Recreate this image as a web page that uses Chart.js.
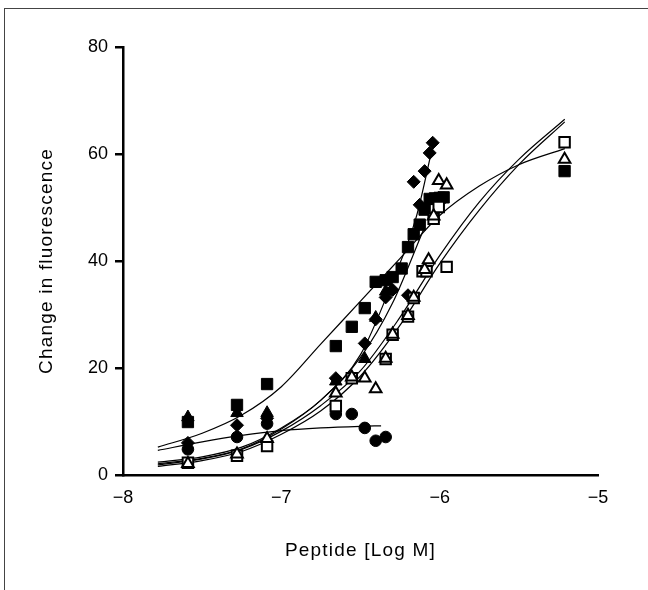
<!DOCTYPE html>
<html>
<head>
<meta charset="utf-8">
<script src="https://cdn.jsdelivr.net/npm/chart.js@4.4.0/dist/chart.umd.min.js"></script>
<style>
  html, body { margin: 0; padding: 0; background: #fff; }
  #wrap { position: relative; width: 648px; height: 590px; overflow: hidden; }
  #frame { position: absolute; left: 4px; top: 8px; width: 800px; height: 800px;
           border-top: 1.5px solid #444; border-left: 1.5px solid #444; }
  canvas { position: absolute; left: 0; top: 0; }
</style>
</head>
<body>
<div id="wrap">
  <div id="frame"></div>
  <canvas id="c" width="648" height="590"></canvas>
</div>
<script>
// ---- Axis ticks ----
const xTicks = [-8, -7, -6, -5];
const yTicks = [0, 20, 40, 60, 80];

// ---- Measured points (x = log M, y = change in fluorescence) ----
const sqFilledX = [-7.59, -7.28, -7.09, -6.656, -6.555, -6.473, -6.404, -6.341, -6.297, -6.24, -6.20, -6.164, -6.126, -6.095, -6.063, -6.03, -6.0, -5.975, -5.211];
const sqFilledY = [9.9, 13.1, 17.0, 24.1, 27.7, 31.2, 36.1, 36.4, 37.0, 38.6, 42.6, 45.0, 46.8, 49.6, 51.6, 51.7, 51.8, 51.9, 56.8];

const triFilledX = [-7.59, -7.28, -7.09, -6.656, -6.473, -6.404, -6.341];
const triFilledY = [10.8, 11.6, 11.6, 17.5, 21.7, 29.4, 34.3];

const diaFilledX = [-7.59, -7.28, -7.09, -6.656, -6.473, -6.404, -6.341, -6.297, -6.20, -6.164, -6.126, -6.095, -6.063, -6.044];
const diaFilledY = [6.0, 9.3, 10.6, 18.1, 24.6, 29.1, 33.2, 34.6, 33.6, 54.8, 50.5, 56.8, 60.2, 62.1];

const circFilledX = [-7.59, -7.28, -7.09, -6.656, -6.555, -6.473, -6.404, -6.341];
const circFilledY = [4.8, 7.1, 9.6, 11.4, 11.4, 8.8, 6.4, 7.1];

const sqOpenX = [-7.59, -7.28, -7.09, -6.656, -6.555, -6.341, -6.297, -6.20, -6.164, -6.108, -6.083, -6.038, -6.006, -5.956, -5.211];
const sqOpenY = [2.3, 3.6, 5.4, 12.9, 18.1, 21.7, 26.2, 29.6, 33.1, 38.1, 38.1, 47.9, 50.1, 38.9, 62.2];

const triOpenX = [-7.59, -7.28, -7.09, -6.656, -6.555, -6.473, -6.404, -6.341, -6.297, -6.20, -6.164, -6.095, -6.07, -6.038, -6.006, -5.956, -5.211];
const triOpenY = [2.1, 3.9, 6.8, 15.3, 18.3, 18.1, 16.1, 21.8, 26.3, 29.8, 33.2, 38.4, 40.2, 48.4, 55.0, 54.2, 59.0];

// ---- Fitted curves ----
const fitX = [-7.78, -7.5, -7.25, -7.0, -6.75, -6.5, -6.25, -6.0, -5.75, -5.5, -5.21];
const fitSqFilledY = [5.2, 7.8, 11.2, 16.5, 24.5, 32.5, 40.5, 48.5, 54.0, 58.0, 61.0];
const fitTriOpenY  = [1.9, 3.0, 4.8, 8.2, 13.0, 19.5, 29.5, 41.0, 51.0, 59.0, 66.5];
const fitSqOpenY   = [1.6, 2.7, 4.4, 7.6, 12.0, 18.5, 28.0, 39.5, 49.5, 58.0, 66.0];

const fitCircX = [-7.78, -7.5, -7.25, -7.0, -6.75, -6.5, -6.37];
const fitCircY = [4.6, 6.2, 7.4, 8.3, 8.8, 9.1, 9.2];

const fitDiaX = [-7.78, -7.5, -7.25, -7.0, -6.75, -6.5, -6.3, -6.15, -6.04];
const fitDiaY = [2.4, 3.4, 5.2, 8.8, 14.0, 22.5, 36.0, 48.0, 62.0];

const fitTriX = [-7.78, -7.5, -7.25, -7.0, -6.75, -6.5, -6.3, -6.1];
const fitTriY = [2.1, 3.1, 4.9, 8.6, 14.0, 22.0, 32.0, 46.0];

const pts = (xs, ys) => xs.map((x, i) => ({ x: x, y: ys[i] }));

function markerSet(xs, ys, style, radius, filled, order) {
  return {
    data: pts(xs, ys),
    showLine: false,
    pointStyle: style,
    pointRadius: radius,
    pointHoverRadius: radius,
    pointBackgroundColor: filled ? '#000' : '#fff',
    pointBorderColor: '#000',
    pointBorderWidth: filled ? 1 : 2,
    order: order
  };
}
function curveSet(xs, ys) {
  return {
    data: pts(xs, ys),
    showLine: true,
    borderColor: '#000',
    borderWidth: 1.2,
    pointRadius: 0,
    pointHoverRadius: 0,
    cubicInterpolationMode: 'monotone',
    fill: false,
    order: 100
  };
}

const FONT = "'Liberation Sans', Arial, Helvetica, sans-serif";

// Wider tracking for the axis titles (drawn before datasets), normal for tick labels.
const spacingPlugin = {
  id: 'spacing',
  beforeDraw(chart) { chart.ctx.letterSpacing = '1.2px'; },
  beforeDatasetsDraw(chart) { chart.ctx.letterSpacing = '0px'; }
};

new Chart(document.getElementById('c'), {
  type: 'scatter',
  plugins: [spacingPlugin],
  data: {
    datasets: [
      curveSet(fitX, fitSqFilledY),
      curveSet(fitX, fitTriOpenY),
      curveSet(fitX, fitSqOpenY),
      curveSet(fitCircX, fitCircY),
      curveSet(fitDiaX, fitDiaY),
      curveSet(fitTriX, fitTriY),
      markerSet(triFilledX, triFilledY, 'triangle', 7.2, true, 6),
      markerSet(sqFilledX, sqFilledY, 'rect', 8, true, 5),
      markerSet(diaFilledX, diaFilledY, 'rectRot', 6.5, true, 4),
      markerSet(circFilledX, circFilledY, 'circle', 5.8, true, 3),
      markerSet(sqOpenX, sqOpenY, 'rect', 7.4, false, 2),
      markerSet(triOpenX, triOpenY, 'triangle', 6.7, false, 1)
    ]
  },
  options: {
    responsive: false,
    devicePixelRatio: 1,
    animation: false,
    events: [],
    layout: { padding: { left: 0, top: 47, right: 50, bottom: 0 } },
    plugins: { legend: { display: false }, tooltip: { enabled: false } },
    scales: {
      x: {
        type: 'linear',
        min: -8, max: -5,
        afterBuildTicks: (s) => { s.ticks = xTicks.map(v => ({ value: v })); },
        afterFit: (s) => { s.height = 115; },
        grid: { display: false, drawTicks: false },
        border: { display: true, color: '#000', width: 2.5 },
        ticks: {
          z: 1,
          padding: 12,
          color: '#000',
          font: { family: FONT, size: 18 },
          callback: (v) => (v < 0 ? '\u2212' : '') + Math.abs(v)
        },
        title: {
          display: true, text: 'Peptide [Log M]', color: '#000',
          font: { family: FONT, size: 19 },
          padding: { top: 0, bottom: 28 }
        }
      },
      y: {
        type: 'linear',
        min: 0, max: 80,
        afterBuildTicks: (s) => { s.ticks = yTicks.map(v => ({ value: v })); },
        afterFit: (s) => { s.width = 123; },
        grid: { drawOnChartArea: false, drawTicks: true, tickLength: 8, color: '#000', lineWidth: 2.5 },
        border: { display: true, color: '#000', width: 2.5 },
        ticks: {
          z: 1,
          padding: 7,
          color: '#000',
          font: { family: FONT, size: 18 }
        },
        title: {
          display: true, text: 'Change in fluorescence', color: '#000',
          font: { family: FONT, size: 19 },
          padding: { top: 35, bottom: 0 }
        }
      }
    }
  }
});
</script>
</body>
</html>
